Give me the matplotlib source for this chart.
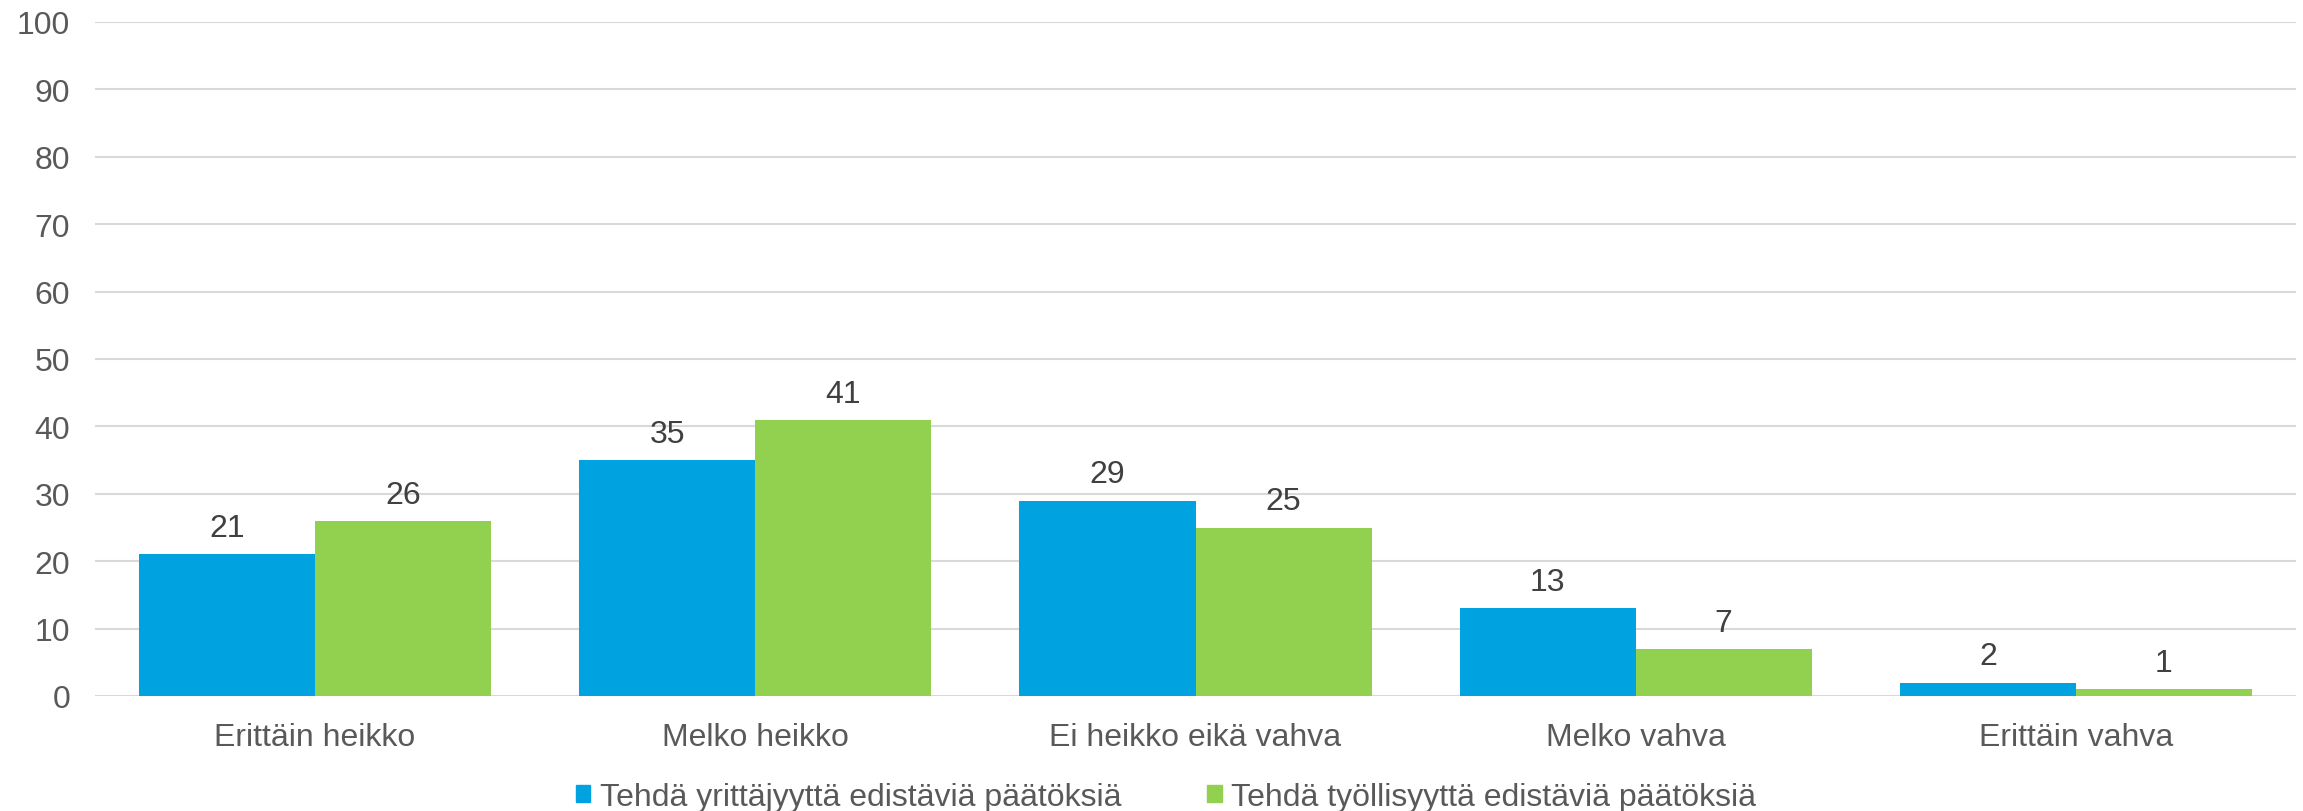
import numpy as np
import matplotlib
matplotlib.use('Agg')
import matplotlib.pyplot as plt
from matplotlib.patches import Patch

# data
categories = ['Erittäin heikko', 'Melko heikko', 'Ei heikko eikä vahva',
              'Melko vahva', 'Erittäin vahva']
yrittajyys = [21, 35, 29, 13, 2]
tyollisyys = [26, 41, 25, 7, 1]
seriesNames = ['Tehdä yrittäjyyttä edistäviä päätöksiä',
               'Tehdä työllisyyttä edistäviä päätöksiä']
yTicks = [0, 10, 20, 30, 40, 50, 60, 70, 80, 90, 100]

blue = '#00A2E0'
green = '#92D050'
tickColor = '#595959'
labelColor = '#404040'
fontSize = 23

plt.rcParams['font.family'] = ['Liberation Sans', 'DejaVu Sans']

fig = plt.figure(figsize=(23.03, 8.12), dpi=100)
ax = fig.add_axes([95/2303, 1-697/812, (2296-95)/2303, (697-23)/812])

x = np.arange(len(categories))
width = 0.4
barsA = ax.bar(x - width/2, yrittajyys, width, color=blue, zorder=3)
barsB = ax.bar(x + width/2, tyollisyys, width, color=green, zorder=3)

ax.bar_label(barsA, padding=8, fontsize=fontSize, color=labelColor)
ax.bar_label(barsB, padding=8, fontsize=fontSize, color=labelColor)

ax.set_xlim(-0.5, len(categories) - 0.5)
ax.set_ylim(0, 100)
ax.set_yticks(yTicks)
ax.set_xticks(x)
ax.set_xticklabels(categories)
ax.tick_params(axis='both', length=0, labelsize=fontSize, labelcolor=tickColor)
ax.tick_params(axis='y', pad=18)
ax.tick_params(axis='x', pad=19)

ax.grid(axis='y', color='#D9D9D9', linewidth=1.5, zorder=0)
ax.set_axisbelow(True)
for side in ['top', 'right', 'left', 'bottom']:
    ax.spines[side].set_visible(False)

handles = [Patch(color=blue), Patch(color=green)]
fig.legend(handles, seriesNames, loc='center', ncol=2,
           bbox_to_anchor=(1166/2303, 1-798/812), frameon=False,
           fontsize=fontSize, labelcolor=tickColor,
           handlelength=0.45, handleheight=0.45, handletextpad=0.3,
           columnspacing=2.7)

fig.savefig('out.png', dpi=100)
